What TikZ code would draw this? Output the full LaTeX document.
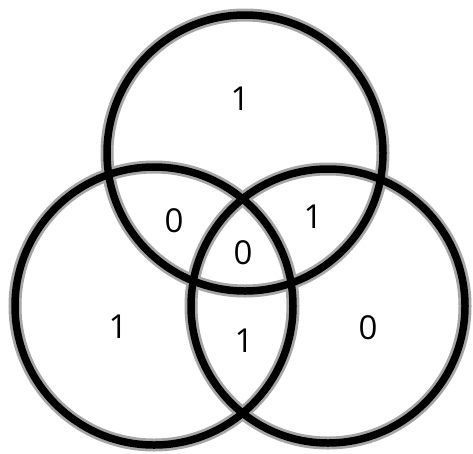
\documentclass[tikz,border=0pt]{standalone}
\usepackage{fontspec}
\setmainfont{Open Sans}
\begin{document}
\begin{tikzpicture}[x=1pt,y=-1pt,
  ring/.style={draw=black!35,line width=13pt},
  ringcore/.style={draw=black,line width=7.5pt},
  lbl/.style={font=\fontsize{33}{33}\selectfont,inner sep=0pt}]
\useasboundingbox (0,0) rectangle (473,453);
\coordinate (ct) at (245,153);
\coordinate (cl) at (154,306);
\coordinate (cr) at (328,306);
\foreach \c/\r in {ct/138,cl/139,cr/137}{
  \draw[ring] (\c) circle (\r);
}
\foreach \c/\r in {ct/138,cl/139,cr/137}{
  \draw[ringcore] (\c) circle (\r);
}
\node[lbl] (a) at (240,99) {1};
\node[lbl] (b) at (174,221) {0};
\node[lbl] (c) at (313,217) {1};
\node[lbl] (d) at (243,253) {0};
\node[lbl] (e) at (118,327) {1};
\node[lbl] (f) at (244,341) {1};
\node[lbl] (g) at (368,328) {0};
\end{tikzpicture}
\end{document}
